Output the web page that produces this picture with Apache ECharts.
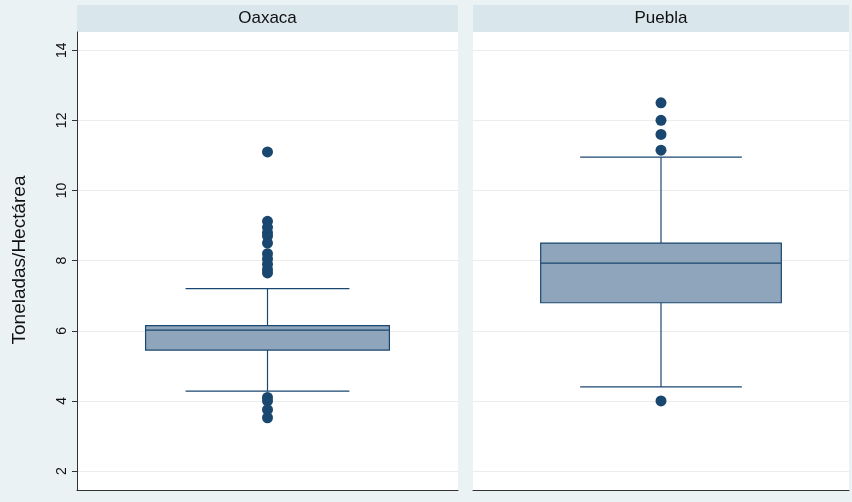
<!DOCTYPE html>
<html><head><meta charset="utf-8">
<script src="https://cdn.jsdelivr.net/npm/echarts@6/dist/echarts.min.js"></script>
<style>html,body{margin:0;padding:0;background:#eaf2f3}#c{width:852px;height:502px}</style>
</head><body><div id="c"></div>
<script>
// panels and values (Toneladas/Hectárea)
const panels = ["Oaxaca", "Puebla"];
// [lower whisker, q1, median, q3, upper whisker]
const boxStats = [
  [4.28, 5.45, 6.02, 6.15, 7.2],
  [4.4, 6.8, 7.93, 8.5, 10.95]
];
const outliers = [
  [11.1, 9.12, 8.95, 8.8, 8.7, 8.5, 8.2, 8.05, 7.9, 7.75, 7.65, 4.1, 4.0, 3.75, 3.52],
  [12.5, 12.0, 11.6, 11.15, 4.0]
];
const yTicks = [2, 4, 6, 8, 10, 12, 14];

const navy = "#1a476f";
const grids = [
  { left: 77, width: 381, top: 32, bottom: 12 },
  { left: 473, width: 376, top: 32, bottom: 12 }
];

function renderBox(params, api) {
  const x = api.value(0);
  const v = [1, 2, 3, 4, 5].map(i => api.value(i));
  const bw = api.size([1, 0])[0];
  const half = bw * 0.32, cap = bw * 0.215;
  const p = v.map(val => api.coord([x, val]));
  const cx = p[0][0];
  const ls = { stroke: navy, lineWidth: 1.2 };
  return {
    type: "group",
    children: [
      { type: "line", shape: { x1: cx, y1: p[0][1], x2: cx, y2: p[1][1] }, style: ls },
      { type: "line", shape: { x1: cx, y1: p[3][1], x2: cx, y2: p[4][1] }, style: ls },
      { type: "line", shape: { x1: cx - cap, y1: p[0][1], x2: cx + cap, y2: p[0][1] }, style: ls },
      { type: "line", shape: { x1: cx - cap, y1: p[4][1], x2: cx + cap, y2: p[4][1] }, style: ls },
      { type: "rect", shape: { x: cx - half, y: p[3][1], width: half * 2, height: p[1][1] - p[3][1] },
        style: { fill: "#8fa5bb", stroke: navy, lineWidth: 1.2 } },
      { type: "line", shape: { x1: cx - half, y1: p[2][1], x2: cx + half, y2: p[2][1] }, style: ls }
    ]
  };
}

const option = {
  backgroundColor: "#eaf2f3",
  animation: false,
  grid: grids.map(g => Object.assign({ backgroundColor: "#fff", show: true, borderWidth: 0 }, g)),
  graphic: [
    ...grids.map((g, i) => ({
      type: "group",
      children: [
        { type: "rect", shape: { x: g.left, y: 5, width: g.width, height: 27 }, style: { fill: "#d9e6ec" } },
        { type: "text", x: g.left + g.width / 2, y: 18.5,
          style: { text: panels[i], font: "17px 'Liberation Sans', Arial", fill: "#111", align: "center", verticalAlign: "middle" } }
      ]
    })),
    { type: "text", x: 20, y: 260, rotation: Math.PI / 2,
      style: { text: "Toneladas/Hectárea", font: "19px 'Liberation Sans', Arial", fill: "#111", align: "center", verticalAlign: "middle" } }
  ],
  xAxis: grids.map((g, i) => ({
    type: "category", gridIndex: i, data: [panels[i]],
    axisLine: { lineStyle: { color: "#333" } }, axisTick: { show: false }, axisLabel: { show: false }
  })),
  yAxis: grids.map((g, i) => ({
    type: "value", gridIndex: i, min: 1.46, max: 14.52,
    axisLine: { show: i === 0, lineStyle: { color: "#333" } },
    axisTick: { show: i === 0, customValues: yTicks, length: 5, lineStyle: { color: "#333" } },
    axisLabel: { show: i === 0, customValues: yTicks, rotate: 90, color: "#111",
      fontSize: 14, fontFamily: "Liberation Sans", margin: 8 },
    splitLine: { show: true, customValues: yTicks, lineStyle: { color: "#ececec" } }
  })),
  series: [
    ...panels.map((p, i) => ({
      type: "custom", xAxisIndex: i, yAxisIndex: i, renderItem: renderBox,
      data: [[0, ...boxStats[i]]]
    })),
    ...panels.map((p, i) => ({
      type: "scatter", xAxisIndex: i, yAxisIndex: i, symbolSize: 11,
      itemStyle: { color: navy, opacity: 1 },
      data: outliers[i].map(v => [0, v])
    }))
  ]
};
const chart = echarts.init(document.getElementById("c"));
chart.setOption(option);
</script></body></html>
